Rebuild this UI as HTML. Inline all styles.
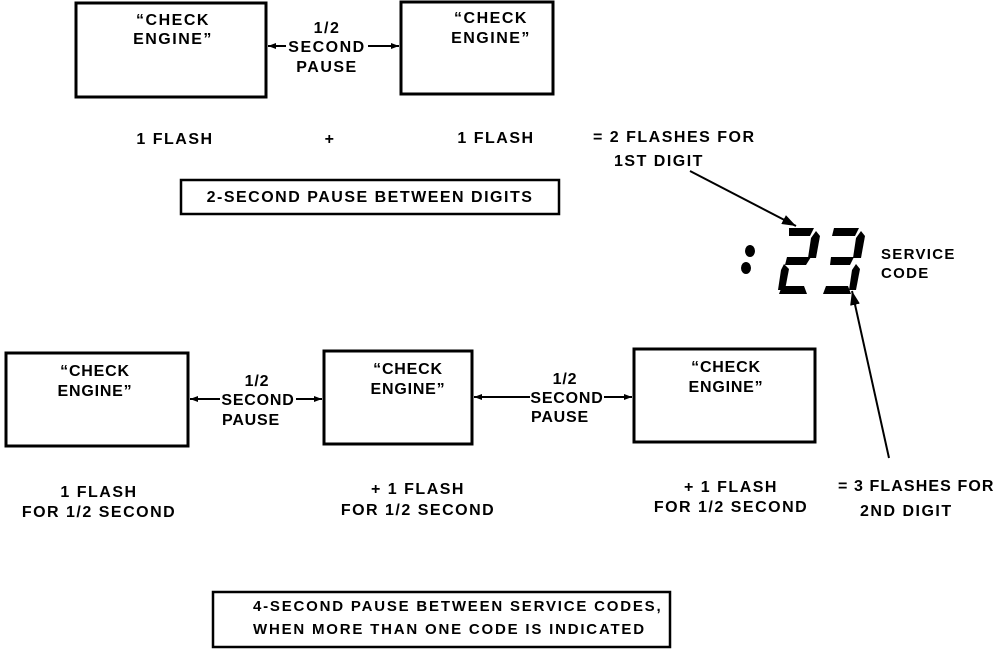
<!DOCTYPE html>
<html><head><style>
html,body{margin:0;padding:0;background:#fff;}
svg{display:block;}
text{font-family:"Liberation Sans",sans-serif;font-weight:bold;font-size:16px;letter-spacing:1.5px;fill:#000;}
.n{letter-spacing:0.8px;}
.s{font-size:15px;letter-spacing:1.3px;}
.f{font-size:15px;letter-spacing:1.8px;}
</style></head><body>
<svg width="1008" height="650" viewBox="0 0 1008 650" xmlns="http://www.w3.org/2000/svg">
<defs>
<marker id="a" markerWidth="8" markerHeight="6" refX="8" refY="3" orient="auto" markerUnits="userSpaceOnUse"><path d="M0,0 L8,3 L0,6 z"/></marker>
<marker id="b" markerWidth="14" markerHeight="10" refX="14" refY="5" orient="auto" markerUnits="userSpaceOnUse"><path d="M0,0 L14,5 L0,10 z"/></marker>
</defs>
<g fill="none" stroke="#000" stroke-width="3">
<rect x="76" y="3" width="190" height="94"/>
<rect x="401" y="2" width="152" height="92"/>
<rect x="181" y="180" width="378" height="34" stroke-width="2.5"/>
<rect x="6" y="353" width="182" height="93"/>
<rect x="324" y="351" width="148" height="93"/>
<rect x="634" y="349" width="181" height="93"/>
<rect x="213" y="592" width="457" height="55" stroke-width="2.5"/>
</g>
<g stroke="#000" stroke-width="2">
<line x1="286" y1="46" x2="268" y2="46" marker-end="url(#a)"/>
<line x1="368" y1="46" x2="399" y2="46" marker-end="url(#a)"/>
<line x1="220" y1="399" x2="190" y2="399" marker-end="url(#a)"/>
<line x1="296" y1="399" x2="322" y2="399" marker-end="url(#a)"/>
<line x1="530" y1="397" x2="474" y2="397" marker-end="url(#a)"/>
<line x1="604" y1="397" x2="632" y2="397" marker-end="url(#a)"/>
<line x1="690" y1="171" x2="796" y2="226" marker-end="url(#b)"/>
<line x1="889" y1="458" x2="852" y2="291" marker-end="url(#b)"/>
</g>
<g text-anchor="middle">
<text x="173" y="25">“CHECK</text><text x="173" y="44">ENGINE”</text>
<text x="491" y="23">“CHECK</text><text x="491" y="43">ENGINE”</text>
<text x="327" y="33">1/2</text><text x="327" y="52">SECOND</text><text x="327" y="72">PAUSE</text>
<text x="175" y="144">1 FLASH</text><text x="330" y="144">+</text><text x="496" y="143">1 FLASH</text>
<text x="370" y="202">2-SECOND PAUSE BETWEEN DIGITS</text>
<text class="n" x="95" y="376">“CHECK</text><text class="n" x="95" y="396">ENGINE”</text>
<text class="n" x="408" y="374">“CHECK</text><text class="n" x="408" y="394">ENGINE”</text>
<text class="n" x="726" y="372">“CHECK</text><text class="n" x="726" y="392">ENGINE”</text>
<text class="n" x="257" y="386">1/2</text><text class="n" x="258" y="405">SECOND</text><text class="n" x="251" y="425">PAUSE</text>
<text class="n" x="565" y="384">1/2</text><text class="n" x="567" y="403">SECOND</text><text class="n" x="560" y="422">PAUSE</text>
<text x="99" y="497">1 FLASH</text><text x="99" y="517">FOR 1/2 SECOND</text>
<text x="418" y="494">+ 1 FLASH</text><text x="418" y="515">FOR 1/2 SECOND</text>
<text x="731" y="492">+ 1 FLASH</text><text x="731" y="512">FOR 1/2 SECOND</text>
</g>
<text x="593" y="142">= 2 FLASHES FOR</text>
<text x="614" y="166">1ST DIGIT</text>
<text class="s" x="881" y="259">SERVICE</text>
<text class="s" x="881" y="278">CODE</text>
<text x="838" y="491" style="letter-spacing:1.1px">= 3 FLASHES FOR</text>
<text x="860" y="516">2ND DIGIT</text>
<text class="f" x="253" y="611">4-SECOND PAUSE BETWEEN SERVICE CODES,</text>
<text class="f" x="253" y="634">WHEN MORE THAN ONE CODE IS INDICATED</text>
<g fill="#000">
<ellipse cx="750" cy="251" rx="5" ry="6"/>
<ellipse cx="746" cy="268" rx="5" ry="6"/>
<polygon points="789,228 814,228 810,236 789,236"/>
<polygon points="816,231 820,236 816,258 808,258 811,238"/>
<polygon points="787,257 811,257 806,265 785,265"/>
<polygon points="784,264 789,269 785,290 778,290 781,270"/>
<polygon points="782,286 804,286 807,294 779,294"/>
<polygon points="834,228 859,228 855,236 832,236"/>
<polygon points="861,231 865,236 861,258 853,258 856,238"/>
<polygon points="831,257 854,257 850,265 830,265"/>
<polygon points="856,264 860,269 856,290 849,290 852,270"/>
<polygon points="826,286 848,286 851,294 823,294"/>
</g>
</svg>
</body></html>
